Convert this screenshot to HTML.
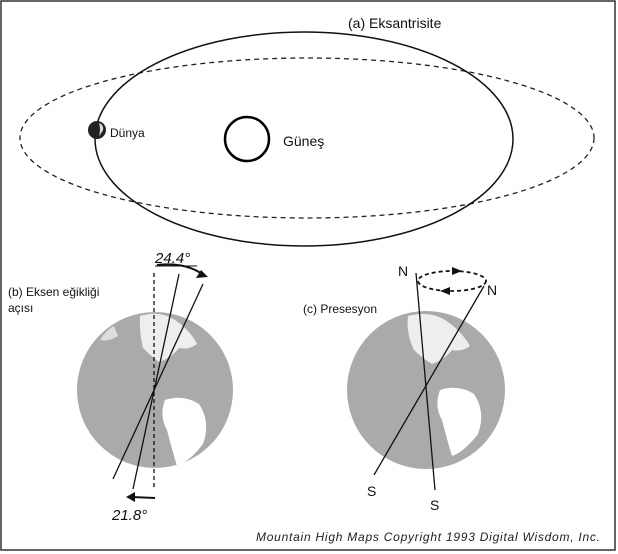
<!DOCTYPE html>
<html><head><meta charset="utf-8"><style>
body{margin:0;background:#fff}
svg{display:block;font-family:"Liberation Sans",sans-serif}
</style></head><body>
<svg width="618" height="554" viewBox="0 0 618 554">
<rect x="1" y="1" width="614" height="549" fill="#fff" stroke="#333" stroke-width="1.5"/>
<ellipse cx="307" cy="138" rx="287" ry="80" fill="none" stroke="#222" stroke-width="1.3" stroke-dasharray="5,4"/>
<ellipse cx="304" cy="139" rx="209" ry="107" fill="none" stroke="#111" stroke-width="1.5"/>
<circle cx="247" cy="139" r="22" fill="none" stroke="#000" stroke-width="2.5"/>
<circle cx="97" cy="130" r="9" fill="#222"/>
<path d="M99 123 q5 2 4 7 q-2 4 -4 6 q2-6 0-13z" fill="#ddd"/>
<text x="348" y="28" font-size="14" fill="#111">(a) Eksantrisite</text>
<text x="110" y="137" font-size="12" fill="#111">Dünya</text>
<text x="283" y="146" font-size="14" fill="#111">Güneş</text>
<text x="8" y="296" font-size="12" fill="#111">(b) Eksen eğikliği</text>
<text x="8" y="312" font-size="12" fill="#111">açısı</text>
<text x="303" y="313" font-size="12" fill="#111">(c) Presesyon</text>
<g>
<circle cx="155" cy="390" r="78" fill="#aaa"/>
<path d="M140 316 q20-6 35 4 q15 10 22 24 q-8 6-18 4 q-8 10-20 14 q-8-6-16-14 q-4-16-3-32z" fill="#eee"/>
<path d="M165 400 q18-6 34 4 q12 18 4 40 q-14 18-26 22 q-6-20-10-36 q-8-14-2-30z" fill="#fff"/>
<path d="M100 340 q6-10 14-14 l4 10 q-10 6-18 4z" fill="#ddd"/>
</g>
<line x1="154" y1="273" x2="154" y2="490" stroke="#111" stroke-width="1.3" stroke-dasharray="4,3"/>
<line x1="179" y1="274" x2="133" y2="489" stroke="#111" stroke-width="1.3"/>
<line x1="203" y1="284" x2="113" y2="479" stroke="#111" stroke-width="1.3"/>
<path d="M157 265 Q185 262 202 274" fill="none" stroke="#111" stroke-width="2"/>
<polygon points="208,277 196,278 201,270" fill="#111"/>
<line x1="155" y1="266" x2="197" y2="266" stroke="#111" stroke-width="1"/>
<text x="155" y="263" font-size="15" font-style="italic" fill="#111">24.4°</text>
<line x1="155" y1="498" x2="132" y2="497" stroke="#111" stroke-width="2"/>
<polygon points="126,497 135,492 135,502" fill="#111"/>
<text x="112" y="520" font-size="15" font-style="italic" fill="#111">21.8°</text>
<g>
<circle cx="426" cy="390" r="79" fill="#aaa"/>
<path d="M408 316 q24-6 40 6 q14 10 22 24 q-8 6-18 4 q-8 10-20 14 q-10-6-18-14 q-8-16-6-34z" fill="#eee"/>
<path d="M440 390 q18-6 34 4 q12 18 4 40 q-14 18-26 22 q-6-20-10-36 q-8-14-2-30z" fill="#fff"/>
</g>
<ellipse cx="452" cy="281" rx="34" ry="10" fill="none" stroke="#111" stroke-width="1.8" stroke-dasharray="4,3"/>
<polygon points="462,271 452,267 452,275" fill="#111"/>
<polygon points="440,291 450,287 450,295" fill="#111"/>
<line x1="416" y1="273" x2="435" y2="490" stroke="#111" stroke-width="1.3"/>
<line x1="484" y1="286" x2="374" y2="475" stroke="#111" stroke-width="1.3"/>
<text x="398" y="276" font-size="14" fill="#111">N</text>
<text x="487" y="295" font-size="14" fill="#111">N</text>
<text x="367" y="496" font-size="14" fill="#111">S</text>
<text x="430" y="510" font-size="14" fill="#111">S</text>
<text x="256" y="541" font-size="12" font-style="italic" fill="#222" textLength="344">Mountain High Maps  Copyright  1993 Digital Wisdom, Inc.</text>
</svg>
</body></html>
